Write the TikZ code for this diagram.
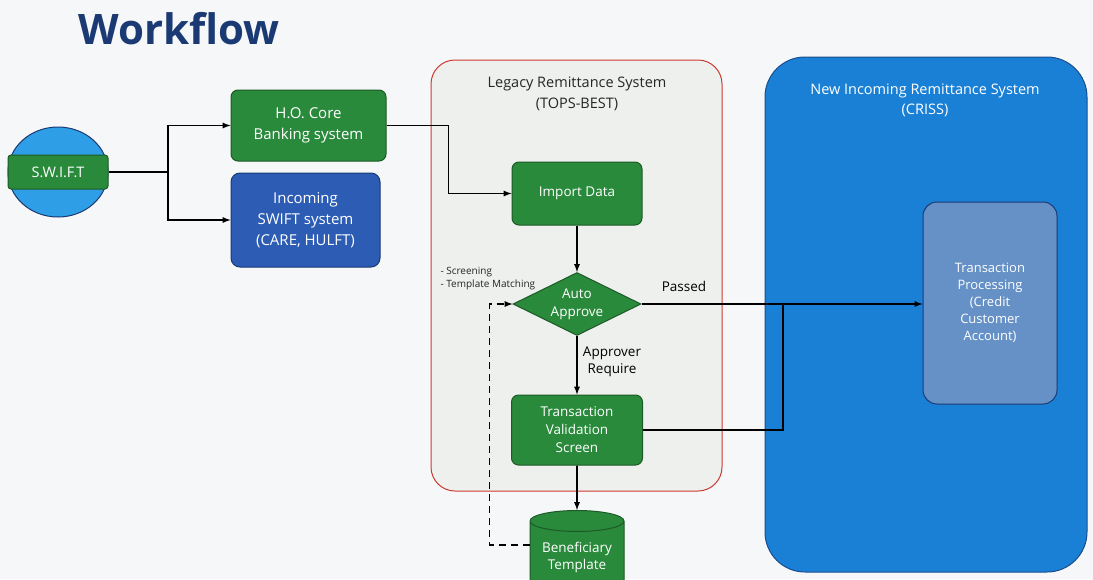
\documentclass[tikz,border=0pt]{standalone}
\usepackage{fontspec}
\setmainfont{Open Sans}
\usepackage{tikz}
\usetikzlibrary{positioning}
\usetikzlibrary{arrows,shapes.geometric}
\definecolor{pagebg}{HTML}{F6F7F9}
\definecolor{titlenavy}{HTML}{1B3A73}
\definecolor{boxgreen}{HTML}{2A8A3C}
\definecolor{greenline}{HTML}{1D5A27}
\definecolor{boxblue}{HTML}{2C5CB4}
\definecolor{swiftblue}{HTML}{2E9FE6}
\definecolor{crissblue}{HTML}{1A80D6}
\definecolor{crissline}{HTML}{1A4D8F}
\definecolor{procfill}{HTML}{6591C6}
\definecolor{legacyfill}{HTML}{EDF0EC}
\definecolor{legacyred}{HTML}{D03A32}
\tikzset{
  greenbox/.style={draw=greenline, fill=boxgreen, rounded corners=7pt, text=white, line width=1pt,
    align=center, font=\fontsize{13.5}{18}\selectfont, inner sep=0pt},
  bluebox/.style={draw=titlenavy, fill=boxblue, rounded corners=9pt, text=white, line width=1pt,
    align=center, font=\fontsize{15}{21}\selectfont, inner sep=0pt},
  note/.style={align=left, font=\fontsize{10}{13}\selectfont, text=black!85},
  flow/.style={draw, line width=1.7pt, -{latex}},
}

\begin{document}
\begin{tikzpicture}[x=1pt,y=-1pt]
\useasboundingbox (0,0) rectangle (1093,579);
\clip (0,0) rectangle (1093,579);
\fill[pagebg] (0,0) rectangle (1093,579);

\draw (179,29) node (title) {\bfseries\fontsize{42}{46}\selectfont\color{titlenavy}Workflow};

\draw[fill=swiftblue, draw=titlenavy, line width=1pt] (58,172) ellipse (50 and 45);
\draw (58,172) node[greenbox, rounded corners=3pt, minimum width=100, minimum height=34,
  font=\fontsize{14.5}{18}\selectfont] (swift) {S.W.I.F.T};

\draw (308.5,125.5) node[greenbox, minimum width=155, minimum height=71,
  font=\fontsize{15}{21}\selectfont] (hocore) {H.O. Core\\Banking system};
\draw (305.5,220) node[bluebox, minimum width=149, minimum height=94] (incoming)
  {Incoming\\SWIFT system\\(CARE, HULFT)};

\draw (576.5,275.5) node[draw=legacyred, fill=legacyfill, line width=1pt, rounded corners=24pt,
  minimum width=291, minimum height=431] (legacy) {};
\draw (577,94) node[align=center, font=\fontsize{14.5}{21}\selectfont, text=black!85] (legacytitle)
  {Legacy Remittance System\\(TOPS-BEST)};

\draw (926,314.5) node[draw=crissline, fill=crissblue, line width=1pt, rounded corners=40pt,
  minimum width=322, minimum height=515] (criss) {};
\draw (925,100) node[align=center, font=\fontsize{14.5}{20}\selectfont, text=white] (crisstitle)
  {New Incoming Remittance System\\(CRISS)};
\draw (990,303) node[draw=titlenavy, fill=procfill, line width=1pt, rounded corners=14pt,
  minimum width=134, minimum height=202, text=white, align=center,
  font=\fontsize{13}{17}\selectfont] (proc)
  {Transaction\\Processing\\(Credit\\Customer\\Account)};

\draw (577,193.5) node[greenbox, minimum width=130, minimum height=63] (import) {Import Data};
\draw (577,304) node[diamond, aspect=2.2, draw=greenline, fill=boxgreen, text=white, align=center,
  inner sep=0pt, line width=1pt, minimum width=128, minimum height=63,
  font=\fontsize{13.5}{18}\selectfont] (approve) {Auto\\Approve};
\draw (577,430) node[greenbox, minimum width=131, minimum height=70] (validate)
  {Transaction\\Validation\\Screen};
\draw (577,557) node[cylinder, shape border rotate=90, aspect=0.3, draw=greenline, line width=1pt,
  fill=boxgreen, text=white, align=center, inner sep=0pt, minimum width=94,
  minimum height=82, font=\fontsize{13.5}{17}\selectfont] (benef) {Beneficiary\\Template};

\draw (437,264) node[note, anchor=north west] (checks) {- Screening\\- Template Matching};
\draw (684,286) node[font=\fontsize{13.5}{16}\selectfont] (passed) {Passed};
\draw (612,362) node[align=center, font=\fontsize{13.5}{17}\selectfont] (require)
  {Approver\\Require};

\coordinate (split) at (168,172);
\coordinate (join) at (783,304);

\path[draw, line width=1.7pt] (swift.east) -- (split);
\path[flow] (split) |- (hocore.west);
\path[flow] (split) |- (incoming.west);
\path[flow] (hocore.east) -- ++(62,0) |- (import.west);
\path[flow] (import.south) -- (approve.north);
\path[flow] (approve.south) -- (validate.north);
\path[flow] (validate.south) -- (benef.north);
\path[flow] (approve.east) -- (approve.east -| proc.west);
\path[draw, line width=1.7pt] (validate.east) -| (join);
\path[flow, dashed, dash pattern=on 7pt off 5pt] ([yshift=12pt]benef.west) -- ++(-40,0) |- (approve.west);

\end{tikzpicture}
\end{document}
